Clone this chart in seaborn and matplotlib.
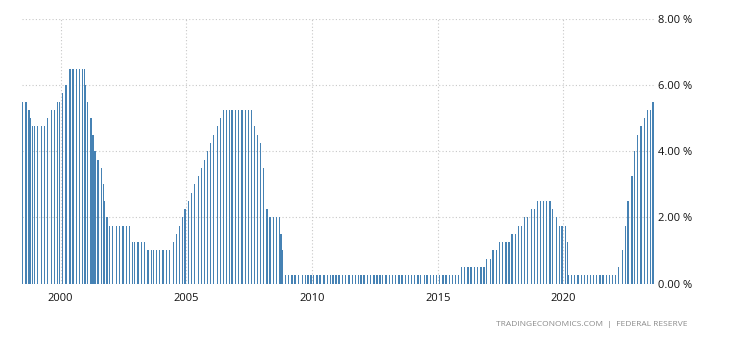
import numpy as np
import pandas as pd
import matplotlib
matplotlib.use("Agg")
import matplotlib.pyplot as plt
import seaborn as sns

# FOMC decision dates and the federal funds target rate (upper bound), %
meeting_dates = [
    "1998-07-01", "1998-08-18", "1998-09-29", "1998-10-15", "1998-11-17", "1998-12-22",
    "1999-02-03", "1999-03-30", "1999-05-18", "1999-06-30", "1999-08-24", "1999-10-05", "1999-11-16", "1999-12-21",
    "2000-02-02", "2000-03-21", "2000-05-16", "2000-06-28", "2000-08-22", "2000-10-03", "2000-11-15", "2000-12-19",
    "2001-01-03", "2001-01-31", "2001-03-20", "2001-04-18", "2001-05-15", "2001-06-27", "2001-08-21", "2001-09-17",
    "2001-10-02", "2001-11-06", "2001-12-11",
    "2002-01-30", "2002-03-19", "2002-05-07", "2002-06-26", "2002-08-13", "2002-09-24", "2002-11-06", "2002-12-10",
    "2003-01-29", "2003-03-18", "2003-05-06", "2003-06-25", "2003-08-12", "2003-09-16", "2003-10-28", "2003-12-09",
    "2004-01-28", "2004-03-16", "2004-05-04", "2004-06-30", "2004-08-10", "2004-09-21", "2004-11-10", "2004-12-14",
    "2005-02-02", "2005-03-22", "2005-05-03", "2005-06-30", "2005-08-09", "2005-09-20", "2005-11-01", "2005-12-13",
    "2006-01-31", "2006-03-28", "2006-05-10", "2006-06-29", "2006-08-08", "2006-09-20", "2006-10-25", "2006-12-12",
    "2007-01-31", "2007-03-21", "2007-05-09", "2007-06-28", "2007-08-07", "2007-09-18", "2007-10-31", "2007-12-11",
    "2008-01-22", "2008-01-30", "2008-03-18", "2008-04-30", "2008-06-25", "2008-08-05", "2008-09-16", "2008-10-08",
    "2008-10-29", "2008-12-16",
    "2009-01-28", "2009-03-18", "2009-04-29", "2009-06-24", "2009-08-12", "2009-09-23", "2009-11-04", "2009-12-16",
    "2010-01-27", "2010-03-16", "2010-04-28", "2010-06-23", "2010-08-10", "2010-09-21", "2010-11-03", "2010-12-14",
    "2011-01-26", "2011-03-15", "2011-04-27", "2011-06-22", "2011-08-09", "2011-09-21", "2011-11-02", "2011-12-13",
    "2012-01-25", "2012-03-13", "2012-04-25", "2012-06-20", "2012-08-01", "2012-09-13", "2012-10-24", "2012-12-12",
    "2013-01-30", "2013-03-20", "2013-05-01", "2013-06-19", "2013-07-31", "2013-09-18", "2013-10-30", "2013-12-18",
    "2014-01-29", "2014-03-19", "2014-04-30", "2014-06-18", "2014-07-30", "2014-09-17", "2014-10-29", "2014-12-17",
    "2015-01-28", "2015-03-18", "2015-04-29", "2015-06-17", "2015-07-29", "2015-09-17", "2015-10-28", "2015-12-16",
    "2016-01-27", "2016-03-16", "2016-04-27", "2016-06-15", "2016-07-27", "2016-09-21", "2016-11-02", "2016-12-14",
    "2017-02-01", "2017-03-15", "2017-05-03", "2017-06-14", "2017-07-26", "2017-09-20", "2017-11-01", "2017-12-13",
    "2018-01-31", "2018-03-21", "2018-05-02", "2018-06-13", "2018-08-01", "2018-09-26", "2018-11-08", "2018-12-19",
    "2019-01-30", "2019-03-20", "2019-05-01", "2019-06-19", "2019-07-31", "2019-09-18", "2019-10-30", "2019-12-11",
    "2020-01-29", "2020-03-03", "2020-03-15", "2020-04-29", "2020-06-10", "2020-07-29", "2020-09-16", "2020-11-05",
    "2020-12-16",
    "2021-01-27", "2021-03-17", "2021-04-28", "2021-06-16", "2021-07-28", "2021-09-22", "2021-11-03", "2021-12-15",
    "2022-01-26", "2022-03-16", "2022-05-04", "2022-06-15", "2022-07-27", "2022-09-21", "2022-11-02", "2022-12-14",
    "2023-02-01", "2023-03-22", "2023-05-03", "2023-06-14", "2023-07-26",
]

fed_rate = [
    5.50, 5.50, 5.25, 5.00, 4.75, 4.75,
    4.75, 4.75, 4.75, 5.00, 5.25, 5.25, 5.50, 5.50,
    5.75, 6.00, 6.50, 6.50, 6.50, 6.50, 6.50, 6.50,
    6.00, 5.50, 5.00, 4.50, 4.00, 3.75, 3.50, 3.00,
    2.50, 2.00, 1.75,
    1.75, 1.75, 1.75, 1.75, 1.75, 1.75, 1.25, 1.25,
    1.25, 1.25, 1.25, 1.00, 1.00, 1.00, 1.00, 1.00,
    1.00, 1.00, 1.00, 1.25, 1.50, 1.75, 2.00, 2.25,
    2.50, 2.75, 3.00, 3.25, 3.50, 3.75, 4.00, 4.25,
    4.50, 4.75, 5.00, 5.25, 5.25, 5.25, 5.25, 5.25,
    5.25, 5.25, 5.25, 5.25, 5.25, 4.75, 4.50, 4.25,
    3.50, 3.00, 2.25, 2.00, 2.00, 2.00, 2.00, 1.50,
    1.00, 0.25,
    0.25, 0.25, 0.25, 0.25, 0.25, 0.25, 0.25, 0.25,
    0.25, 0.25, 0.25, 0.25, 0.25, 0.25, 0.25, 0.25,
    0.25, 0.25, 0.25, 0.25, 0.25, 0.25, 0.25, 0.25,
    0.25, 0.25, 0.25, 0.25, 0.25, 0.25, 0.25, 0.25,
    0.25, 0.25, 0.25, 0.25, 0.25, 0.25, 0.25, 0.25,
    0.25, 0.25, 0.25, 0.25, 0.25, 0.25, 0.25, 0.25,
    0.25, 0.25, 0.25, 0.25, 0.25, 0.25, 0.25, 0.50,
    0.50, 0.50, 0.50, 0.50, 0.50, 0.50, 0.50, 0.75,
    0.75, 1.00, 1.00, 1.25, 1.25, 1.25, 1.25, 1.50,
    1.50, 1.75, 1.75, 2.00, 2.00, 2.25, 2.25, 2.50,
    2.50, 2.50, 2.50, 2.50, 2.25, 2.00, 1.75, 1.75,
    1.75, 1.25, 0.25, 0.25, 0.25, 0.25, 0.25, 0.25,
    0.25,
    0.25, 0.25, 0.25, 0.25, 0.25, 0.25, 0.25, 0.25,
    0.25, 0.50, 1.00, 1.75, 2.50, 3.25, 4.00, 4.50,
    4.75, 5.00, 5.25, 5.25, 5.50,
]

year_ticks = [2000, 2005, 2010, 2015, 2020]
rate_ticks = [0, 2, 4, 6, 8]
source_note = "TRADINGECONOMICS.COM  |  FEDERAL RESERVE"

# Convert meeting dates to fractional years for a numeric x axis
dt = pd.to_datetime(meeting_dates)
days_in_year = np.where(dt.is_leap_year, 366, 365)
frac_year = dt.year + (dt.dayofyear - 1) / days_in_year
df = pd.DataFrame({"year": np.asarray(frac_year, dtype=float), "rate": fed_rate})

sns.set_theme(style="white")
plt.rcParams["font.family"] = ["Open Sans", "DejaVu Sans"]

W, H = 730, 340
fig = plt.figure(figsize=(W / 100, H / 100), dpi=100)
left, right, top, bottom = 22, 655, 19, 283.5
ax = fig.add_axes([left / W, 1 - bottom / H, (right - left) / W, (bottom - top) / H])

bar_years = 0.05
min_gap = np.diff(np.unique(df["year"])).min()
sns.barplot(data=df, x="year", y="rate", native_scale=True,
            width=bar_years / min_gap, color="#4682b4", saturation=1,
            errorbar=None, linewidth=0, ax=ax)

ax.set_xlim(df["year"].min() - 0.03, 2023.64)
ax.set_ylim(0, 8)
ax.set_xticks(year_ticks)
ax.set_xticklabels([str(y) for y in year_ticks])
ax.yaxis.tick_right()
ax.set_yticks(rate_ticks)
ax.set_yticklabels([f"{v:.2f} %" for v in rate_ticks])
ax.set_xlabel("")
ax.set_ylabel("")

ax.set_axisbelow(True)
ax.grid(True, linestyle=(0, (1, 2)), color="#c8c8c8", linewidth=0.8)
for s in ax.spines.values():
    s.set_visible(False)
ax.tick_params(axis="both", length=0, labelsize=8, colors="#111111")
ax.tick_params(axis="y", pad=2)
ax.tick_params(axis="x", pad=6.5)

fig.text(688 / W, 1 - 325 / H, source_note, ha="right", va="center",
         fontsize=6.0, color="#8a8a8a")

fig.savefig("out.png", dpi=100)
